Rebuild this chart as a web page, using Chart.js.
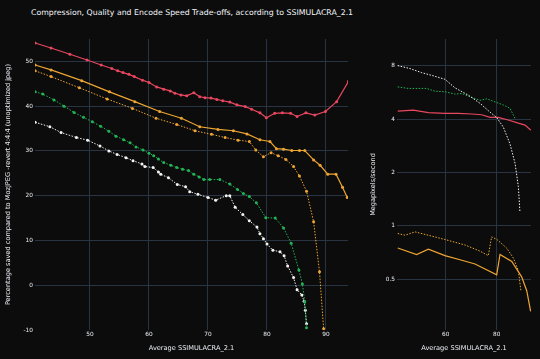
<!DOCTYPE html>
<html>
<head>
<meta charset="utf-8">
<script src="https://cdn.jsdelivr.net/npm/chart.js@4"></script>
<style>
  html, body { margin: 0; padding: 0; background: #0c0c0c; }
  body { width: 540px; height: 359px; position: relative; overflow: hidden; }
  #title {
    position: absolute; left: 31px; top: 8px;
    font: 7.8px "DejaVu Sans", sans-serif; color: #f2f5fa; white-space: nowrap;
  }
  #savedChart { position: absolute; left: 0; top: 0; }
  #speedChart { position: absolute; left: 355px; top: 0; }
</style>
</head>
<body>
<div id="title">Compression, Quality and Encode Speed Trade-offs, according to SSIMULACRA_2.1</div>
<canvas id="savedChart" width="355" height="359"></canvas>
<canvas id="speedChart" width="185" height="359"></canvas>
<script>
Chart.defaults.font.family = "DejaVu Sans";
Chart.defaults.color = "#eceff4";

// left panel: percentage saved vs SSIMULACRA 2.1
const redX = [40.7, 43.4, 46.6, 49.5, 51.9, 53.7, 54.7, 55.6, 56.6, 57.5, 58.9, 60.0, 61.3, 62.5, 63.6, 64.4, 65.4, 66.4, 67.6, 68.6, 69.5, 70.5, 71.5, 72.5, 73.7, 74.9, 76.3, 77.4, 78.8, 79.9, 81.3, 82.6, 84.0, 85.1, 86.6, 88.1, 89.9, 91.8, 93.8];
const redSaved = [54.1, 53.0, 51.6, 50.3, 49.2, 48.4, 47.9, 47.5, 47.1, 46.6, 45.8, 45.3, 44.3, 43.8, 43.4, 42.9, 42.5, 42.3, 43.0, 42.1, 41.9, 41.8, 41.5, 41.2, 40.9, 40.3, 39.9, 39.3, 38.5, 37.4, 38.4, 38.5, 38.4, 37.7, 38.5, 38.0, 38.8, 41.0, 45.5];

const orangeX = [40.7, 43.4, 48.6, 53.3, 57.6, 61.8, 65.5, 68.6, 71.7, 74.3, 76.6, 78.8, 80.5, 81.6, 82.8, 84.2, 85.5, 86.4, 87.9, 89.0, 90.3, 91.7, 92.8, 93.6];
const orangeSaved = [49.2, 48.1, 45.7, 43.2, 41.0, 38.8, 37.3, 35.4, 34.8, 34.5, 33.8, 32.5, 32.1, 30.5, 30.4, 30.1, 30.1, 30.1, 28.0, 26.8, 24.8, 24.8, 21.9, 19.6];

const orangeDotX = [40.7, 43.4, 48.2, 52.9, 57.2, 61.2, 64.7, 67.8, 70.6, 72.9, 75.1, 77.0, 78.1, 79.4, 80.7, 81.9, 83.2, 84.5, 85.5, 86.7, 87.9, 88.9, 89.6];
const orangeDotSaved = [47.9, 46.6, 44.1, 41.6, 39.5, 37.3, 35.9, 34.5, 33.7, 33.0, 32.4, 32.1, 30.2, 28.7, 29.6, 28.9, 28.1, 26.5, 24.4, 21.0, 14.2, 3.0, -9.7];

const greenX = [40.7, 42.0, 43.9, 45.6, 47.3, 48.9, 50.4, 51.8, 53.2, 54.4, 55.7, 56.8, 57.8, 59.0, 60.0, 60.8, 61.6, 62.5, 63.7, 64.7, 65.7, 66.7, 67.6, 68.5, 69.3, 70.3, 72.0, 73.7, 75.0, 76.0, 77.0, 78.2, 79.8, 81.4, 82.8, 84.1, 85.4, 86.0, 86.4, 86.7];
const greenSaved = [43.2, 42.7, 41.4, 40.0, 38.6, 37.5, 36.5, 35.5, 34.4, 33.3, 32.5, 31.8, 30.9, 30.2, 29.5, 28.9, 28.2, 27.4, 26.8, 26.3, 25.9, 25.6, 24.8, 24.2, 23.6, 23.6, 23.6, 22.6, 21.4, 20.5, 19.8, 18.4, 15.1, 15.0, 12.8, 9.4, 3.4, 0.3, -3.7, -9.5];

const whiteX = [40.7, 43.2, 45.1, 47.7, 49.6, 51.7, 53.2, 54.6, 56.1, 57.3, 58.8, 59.3, 60.7, 61.6, 62.0, 63.3, 64.8, 66.2, 66.9, 68.3, 70.0, 71.3, 73.1, 73.7, 74.6, 75.9, 77.0, 78.3, 78.8, 79.4, 80.0, 81.0, 82.2, 82.9, 83.5, 84.5, 85.1, 85.9, 86.3, 86.5, 86.7];
const whiteSaved = [36.4, 35.4, 34.1, 33.0, 32.4, 31.1, 30.0, 29.2, 28.5, 27.8, 27.1, 26.5, 26.3, 25.3, 24.8, 24.0, 22.5, 22.0, 20.9, 20.3, 19.6, 19.0, 20.0, 20.0, 17.4, 15.8, 14.4, 13.0, 11.5, 10.4, 9.2, 7.8, 7.5, 6.6, 4.3, 1.7, -1.0, -2.2, -3.6, -5.6, -8.6];

// right panel: megapixels/second vs SSIMULACRA 2.1
const whiteSpeedX = [41.2, 46.0, 50.6, 54.5, 59.7, 63.6, 68.9, 73.5, 77.4, 80.0, 82.6, 85.2, 87.2, 88.5, 89.1];
const whiteSpeed = [8.0, 7.7, 7.3, 7.05, 6.7, 6.0, 5.45, 4.9, 4.37, 4.08, 3.6, 2.9, 2.25, 1.66, 1.2];

const greenSpeedX = [41.2, 45.3, 52.5, 55.8, 59.7, 63.6, 66.3, 69.5, 73.5, 76.1, 79.3, 82.6, 85.2, 87.2];
const greenSpeed = [6.07, 5.95, 5.95, 5.74, 5.7, 5.53, 5.57, 5.34, 5.1, 5.2, 5.0, 4.8, 4.6, 4.03];

const redSpeedX = [41.2, 47.3, 53.2, 59.7, 64.9, 70.2, 74.1, 77.4, 80.6, 84.5, 88.5, 91.1, 93.4];
const redSpeed = [4.43, 4.49, 4.35, 4.30, 4.30, 4.27, 4.23, 4.09, 4.09, 3.95, 3.79, 3.7, 3.46];

const orangeDotSpeedX = [41.2, 44.0, 48.0, 59.7, 67.6, 73.5, 76.7, 78.0, 80.0, 83.9, 86.5, 88.5, 89.5];
const orangeDotSpeed = [0.906, 0.886, 0.925, 0.838, 0.78, 0.72, 0.68, 0.867, 0.84, 0.75, 0.66, 0.56, 0.43];

const orangeSpeedX = [41.2, 48.6, 53.2, 59.7, 66.3, 71.5, 80.0, 81.3, 85.9, 89.8, 91.8, 93.3];
const orangeSpeed = [0.75, 0.69, 0.74, 0.68, 0.64, 0.61, 0.53, 0.69, 0.63, 0.516, 0.43, 0.33];

const savedTicks = [-10, 0, 10, 20, 30, 40, 50];
const ssimTicks = [50, 60, 70, 80, 90];
const speedTicks = [0.5, 1, 2, 4, 8];
const speedSsimTicks = [60, 80];

const RED = "#e8475f";
const ORANGE = "#eea532";
const GREEN = "#23b457";
const WHITE = "#f4f4f4";
const GRID = "#283442";

function pts(xs, ys) {
  return xs.map((x, i) => ({ x: x, y: ys[i] }));
}

function series(xs, ys, color, dotted, markers) {
  return {
    data: pts(xs, ys),
    borderColor: color,
    backgroundColor: color,
    borderWidth: dotted ? 1 : 1.2,
    borderDash: dotted ? [1.5, 1.5] : [],
    pointRadius: markers ? 1.5 : 0,
    pointBorderWidth: 0,
    tension: 0,
  };
}

const tickFont = { size: 5.8 };
const titleFont = { size: 6.6 };

const savedChart = new Chart(document.getElementById("savedChart"), {
  type: "line",
  data: {
    datasets: [
      series(redX, redSaved, RED, false, true),
      series(orangeX, orangeSaved, ORANGE, false, true),
      series(orangeDotX, orangeDotSaved, ORANGE, true, true),
      series(greenX, greenSaved, GREEN, true, true),
      series(whiteX, whiteSaved, WHITE, true, true),
    ],
  },
  options: {
    responsive: false,
    animation: false,
    layout: { padding: { top: 39, right: 7, left: 0, bottom: 0 } },
    plugins: { legend: { display: false }, tooltip: { enabled: false } },
    scales: {
      x: {
        type: "linear",
        min: 40.68,
        max: 93.73,
        grid: { color: GRID, drawTicks: false },
        border: { display: false },
        ticks: { font: tickFont, padding: 1, maxRotation: 0 },
        title: { display: true, text: "Average SSIMULACRA_2.1", font: titleFont, padding: { top: 0, bottom: 7 } },
        afterBuildTicks: (s) => { s.ticks = ssimTicks.map((v) => ({ value: v })); },
        afterFit: (s) => { s.height = 29; },
      },
      y: {
        type: "linear",
        min: -10,
        max: 55,
        grid: {
          color: (c) => (c.tick && c.tick.value === -10 ? "rgba(0,0,0,0)" : GRID),
          drawTicks: false,
        },
        border: { display: false },
        ticks: { font: tickFont, padding: 2 },
        title: {
          display: true,
          text: "Percentage saved compared to MozJPEG -revert 4:4:4 (unoptimized jpeg)",
          font: titleFont,
          padding: { top: 4, bottom: 0 },
        },
        afterBuildTicks: (s) => { s.ticks = savedTicks.map((v) => ({ value: v })); },
        afterFit: (s) => { s.width = 35; },
      },
    },
  },
});

const speedChart = new Chart(document.getElementById("speedChart"), {
  type: "line",
  data: {
    datasets: [
      series(whiteSpeedX, whiteSpeed, WHITE, true, false),
      series(greenSpeedX, greenSpeed, GREEN, true, false),
      series(redSpeedX, redSpeed, RED, false, false),
      series(orangeDotSpeedX, orangeDotSpeed, ORANGE, true, false),
      series(orangeSpeedX, orangeSpeed, ORANGE, false, false),
    ],
  },
  options: {
    responsive: false,
    animation: false,
    layout: { padding: { top: 39, right: 9, left: 0, bottom: 0 } },
    plugins: { legend: { display: false }, tooltip: { enabled: false } },
    scales: {
      x: {
        type: "linear",
        min: 40.9,
        max: 93.45,
        grid: { color: GRID, drawTicks: false },
        border: { display: false },
        ticks: { font: tickFont, padding: 1, maxRotation: 0 },
        title: { display: true, text: "Average SSIMULACRA_2.1", font: titleFont, padding: { top: 0, bottom: 7 } },
        afterBuildTicks: (s) => { s.ticks = speedSsimTicks.map((v) => ({ value: v })); },
        afterFit: (s) => { s.height = 29; },
      },
      y: {
        type: "logarithmic",
        min: 0.259,
        max: 11.3,
        grid: { color: GRID, drawTicks: false },
        border: { display: false },
        ticks: { font: tickFont, padding: 2, callback: (v) => String(v) },
        title: {
          display: true,
          text: "Megapixels/second",
          font: titleFont,
          padding: { top: 14, bottom: 0 },
        },
        afterBuildTicks: (s) => { s.ticks = speedTicks.map((v) => ({ value: v })); },
        afterFit: (s) => { s.width = 42; },
      },
    },
  },
});
</script>
</body>
</html>
